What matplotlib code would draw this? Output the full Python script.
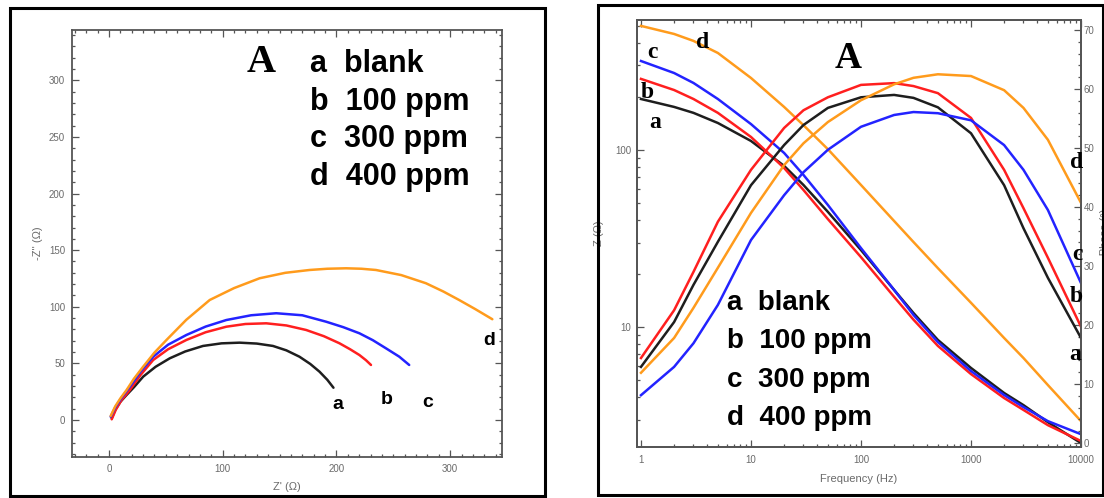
import matplotlib
matplotlib.use('Agg')
import matplotlib.pyplot as plt
from matplotlib.patches import Rectangle
from matplotlib.ticker import MultipleLocator, FixedLocator, LogLocator, NullFormatter, FuncFormatter

# ---- Nyquist data (left panel), Z' and -Z'' in ohm
nyq_a_x = [2.4, 5.5, 10, 15.5, 22, 30.1, 41, 53.5, 67, 82.7, 99, 114.9, 130, 144.2, 156, 167.5, 177, 185.1, 192, 197.4]
nyq_a_y = [1.5, 9, 16, 22.1, 29, 38.3, 47, 54.5, 60.5, 65.4, 67.7, 68.3, 67.5, 65.4, 61.5, 55.9, 49.5, 42.7, 35.5, 28.5]
nyq_b_x = [2.4, 6, 11, 18.4, 28, 38.9, 52, 68.1, 85, 103.2, 120, 138.3, 156, 173.4, 189, 202.6, 212, 220.2, 226, 230.4]
nyq_b_y = [0.6, 9, 17.5, 26.5, 40, 53, 62.5, 70.7, 77.5, 82.4, 84.8, 85.4, 83.5, 79.5, 74, 67.8, 62.5, 57.4, 52.8, 48.6]
nyq_c_x = [1.5, 5.5, 11, 18.4, 28, 38.9, 52, 68.1, 85, 103.2, 125, 147.1, 170, 191, 206, 220.2, 232, 243.6, 255.3, 264]
nyq_c_y = [2.9, 11, 19.5, 29.4, 43, 55.9, 66.5, 75.1, 82.5, 88.3, 92.5, 94.3, 92.5, 86.8, 82, 76.6, 70.5, 63.3, 55.9, 48.6]
nyq_d_x = [1.5, 5.5, 10, 15.5, 22, 30.1, 40, 50.6, 68, 88.6, 110, 132.5, 155, 176.3, 192, 208.5, 222, 234.8, 257, 278.7, 294, 307.9, 322, 337.1]
nyq_d_y = [3.5, 12, 19, 26.5, 36.5, 47.1, 59.5, 70.7, 88.5, 106, 116.5, 125.2, 130, 132.5, 133.6, 134, 133.6, 132.5, 128, 120.8, 113.5, 106, 98, 89]

# ---- Bode data (right panel)
freq = [1, 2, 3, 5, 10, 20, 30, 50, 100, 200, 300, 500, 1000, 2000, 3000, 5000, 10000]
zmod_a = [194, 175, 162, 142, 112.4, 81.3, 63.4, 44.7, 27.2, 16.2, 12.0, 8.45, 5.87, 4.24, 3.62, 2.90, 2.21]
zmod_b = [252, 218, 194, 162, 118.4, 79.1, 59.4, 40.7, 24.8, 14.8, 11.0, 7.82, 5.42, 3.97, 3.40, 2.79, 2.27]
zmod_c = [318, 272, 239, 194, 140, 96.2, 72.3, 48.9, 27.9, 16.2, 11.7, 8.22, 5.64, 4.13, 3.53, 2.94, 2.48]
zmod_d = [502, 452, 413, 353, 255, 175, 138, 101, 63.4, 39.7, 30.2, 21.5, 13.7, 8.67, 6.68, 4.70, 2.94]
phase_a = [12.9, 20.5, 26.8, 34.1, 43.7, 50.5, 53.9, 56.8, 58.6, 59.0, 58.5, 56.9, 52.5, 43.7, 36.4, 28.0, 17.8]
phase_b = [14.4, 22.5, 29.0, 37.5, 46.3, 53.4, 56.4, 58.6, 60.7, 61.0, 60.5, 59.3, 55.1, 46.3, 39.8, 31.4, 19.7]
phase_c = [8.1, 12.9, 16.9, 23.4, 34.4, 42.0, 45.9, 49.7, 53.6, 55.6, 56.1, 55.9, 54.7, 50.5, 46.3, 39.5, 27.1]
phase_d = [11.9, 17.8, 22.9, 29.7, 39.0, 47.1, 50.8, 54.4, 58.1, 60.8, 61.9, 62.5, 62.2, 59.8, 56.8, 51.4, 40.7]

legend_lines = ['a  blank', 'b  100 ppm', 'c  300 ppm', 'd  400 ppm']

col_a, col_b, col_c, col_d = '#1e1e1e', '#ff1f1f', '#2323ff', '#ff9b1c'
tick_gray = '#6a6a6a'
W, H = 1104, 498

plt.rcParams['font.family'] = ['Liberation Sans', 'DejaVu Sans']

fig = plt.figure(figsize=(W / 100, H / 100), dpi=100)


def px(x, y):
    return x / W, 1 - y / H


def frame_box(x0, y0, x1, y1):
    fig.patches.append(Rectangle(px(x0, y1), (x1 - x0) / W, (y1 - y0) / H, transform=fig.transFigure,
                                 fill=False, lw=2.2, ec='black'))


def style(ax):
    for s in ax.spines.values():
        s.set_color('#555555')
        s.set_linewidth(1.3)
    ax.tick_params(which='both', direction='in', colors='#555555', labelcolor=tick_gray, labelsize=7)
    ax.tick_params(which='major', length=5, width=0.9)
    ax.tick_params(which='minor', length=2.5, width=0.9)


frame_box(10, 8, 545, 496)
frame_box(598, 5, 1103, 495)

# ---------------- left: Nyquist
ax = fig.add_axes([72 / W, 1 - 457 / H, 430 / W, 427 / H])
for xs, ys, c in [(nyq_a_x, nyq_a_y, col_a), (nyq_b_x, nyq_b_y, col_b),
                  (nyq_c_x, nyq_c_y, col_c), (nyq_d_x, nyq_d_y, col_d)]:
    ax.plot(xs, ys, color=c, lw=1.8, solid_capstyle='round')
ax.set_xlim(-32.5, 345.6)
ax.set_ylim(-32.7, 344.5)
ax.xaxis.set_major_locator(MultipleLocator(100))
ax.xaxis.set_minor_locator(MultipleLocator(10))
ax.yaxis.set_major_locator(MultipleLocator(50))
ax.yaxis.set_minor_locator(MultipleLocator(10))
style(ax)
ax.tick_params(which='both', top=True, right=True)
ax.tick_params(axis='x', pad=5)
ax.tick_params(axis='y', pad=5)
ax.set_xlabel("Z' (\u03a9)", fontsize=8, color=tick_gray, labelpad=6)
ax.set_ylabel("-Z'' (\u03a9)", fontsize=8, color=tick_gray, labelpad=4)

for lab, xx, yy in [('a', 201, 13.3), ('b', 244, 17.7), ('c', 280, 15.2), ('d', 334.4, 69.9)]:
    ax.text(xx, yy, lab, fontsize=14, fontweight='bold', ha='center', va='center')

fig.text(*px(261, 72), 'A', family=['Liberation Serif'], fontweight='bold', fontsize=29,
         ha='center', va='baseline')
for i, s in enumerate(legend_lines):
    fig.text(*px(310, 72 + 37.7 * i), s, fontsize=22, fontweight='bold', ha='left', va='baseline')

# ---------------- right: Bode
axr = fig.add_axes([637 / W, 1 - 447 / H, 444 / W, 427 / H])
for zs, c in [(zmod_a, col_a), (zmod_b, col_b), (zmod_c, col_c), (zmod_d, col_d)]:
    axr.plot(freq, zs, color=c, lw=1.8)
axr.set_xscale('log')
axr.set_yscale('log')
axr.set_xlim(0.92, 10000)
axr.set_ylim(2.10, 542)
axr.xaxis.set_major_locator(FixedLocator([1, 10, 100, 1000, 10000]))
axr.xaxis.set_major_formatter(FuncFormatter(lambda v, p: '%d' % v))
axr.xaxis.set_minor_locator(LogLocator(base=10, subs=range(2, 10)))
axr.xaxis.set_minor_formatter(NullFormatter())
axr.yaxis.set_major_locator(FixedLocator([10, 100]))
axr.yaxis.set_major_formatter(FuncFormatter(lambda v, p: '%d' % v))
axr.yaxis.set_minor_locator(LogLocator(base=10, subs=range(2, 10)))
axr.yaxis.set_minor_formatter(NullFormatter())
style(axr)
axr.tick_params(which='both', top=True)
axr.tick_params(axis='x', pad=6)
axr.tick_params(axis='y', pad=4)
axr.set_xlabel('Frequency (Hz)', fontsize=8, color=tick_gray, labelpad=6)
axr.set_ylabel('Z (\u03a9)', fontsize=8, color=tick_gray, labelpad=8)

ax2 = axr.twinx()
for ps, c in [(phase_a, col_a), (phase_b, col_b), (phase_c, col_c), (phase_d, col_d)]:
    ax2.plot(freq, ps, color=c, lw=1.8)
ax2.set_ylim(-0.68, 71.7)
ax2.yaxis.set_major_locator(MultipleLocator(10))
ax2.yaxis.set_minor_locator(MultipleLocator(2))
style(ax2)
ax2.tick_params(axis='y', pad=2)
ax2.set_ylabel('-Phase (\u00b0)', fontsize=8, color=tick_gray, labelpad=4)

ser = ['Liberation Serif']
for lab, x, y in [('c', 652, 53), ('d', 703, 42), ('b', 647, 92), ('a', 655, 123),
                  ('d', 1077, 162), ('c', 1077, 254), ('b', 1076, 296), ('a', 1075, 355)]:
    fig.text(*px(x, y), lab, family=ser, fontweight='bold', fontsize=17, ha='center', va='center')

fig.text(*px(848, 68), 'A', family=ser, fontweight='bold', fontsize=27, ha='center', va='baseline')
for i, s in enumerate(legend_lines):
    fig.text(*px(727, 310 + 38.3 * i), s, fontsize=20, fontweight='bold', ha='left', va='baseline')

fig.savefig('out.png', dpi=100)
